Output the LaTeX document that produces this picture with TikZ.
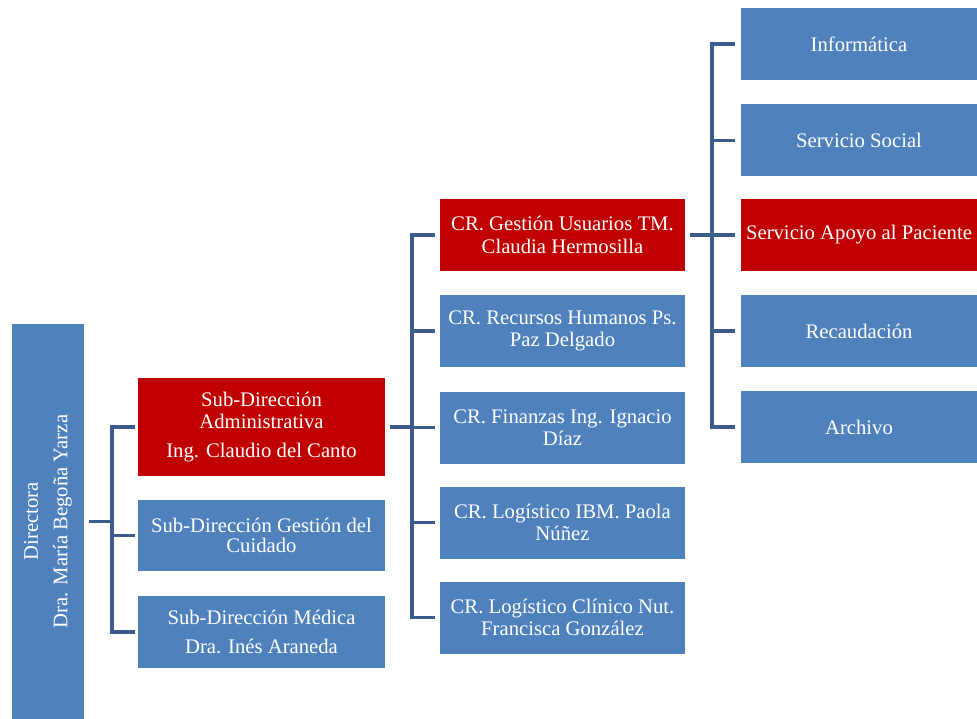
\documentclass[tikz,border=0pt]{standalone}
\usepackage{fontspec}
\setmainfont{Liberation Serif}
\definecolor{boxblue}{HTML}{4F81BD}
\definecolor{boxred}{HTML}{C00000}
\definecolor{linkblue}{HTML}{3B5C8C}
\begin{document}
\begin{tikzpicture}[x=1pt,y=-1pt,
  unit/.style={fill=boxblue, text=white, inner sep=0pt, align=center,
    font=\fontsize{20.7}{22.5}\selectfont},
  hi/.style={fill=boxred},
  subbox/.style={unit, minimum width=247pt},
  crbox/.style={unit, minimum width=245pt, minimum height=72pt},
  svcbox/.style={unit, minimum width=236pt, minimum height=72pt},
  link/.style={draw=linkblue, line width=3.6pt}]
\useasboundingbox (0,0) rectangle (977,719);

% director (rotated column)
\node[unit, rotate=90, minimum width=395pt, minimum height=72pt] (dir) at (48,521.5)
  {Directora\\[7pt]Dra. María Begoña Yarza};

% sub-directorates
\node[subbox, hi, minimum height=98pt] (sa) at (261.5,427)
  {Sub-Dirección\\Administrativa\\[6pt]Ing. Claudio del Canto};
\node[subbox, minimum height=71pt, font=\fontsize{20.7}{20}\selectfont] (sg) at (261.5,535.5)
  {Sub-Dirección Gestión del\\Cuidado};
\node[subbox, minimum height=72pt] (sm) at (261.5,632)
  {Sub-Dirección Médica\\[7pt]Dra. Inés Araneda};

% responsibility centres
\node[crbox, hi] (cr1) at (562.5,235) {CR. Gestión Usuarios TM.\\Claudia Hermosilla};
\node[crbox] (cr2) at (562.5,331) {CR. Recursos Humanos Ps.\\Paz Delgado};
\node[crbox] (cr3) at (562.5,427.5) {CR. Finanzas Ing. Ignacio\\Díaz};
\node[crbox] (cr4) at (562.5,522.5) {CR. Logístico IBM. Paola\\Núñez};
\node[crbox] (cr5) at (562.5,617.5) {CR. Logístico Clínico Nut.\\Francisca González};

% services
\node[svcbox] (sv1) at (859,44) {Informática};
\node[svcbox] (sv2) at (859,140.5) {Servicio Social};
\node[svcbox, hi] (sv3) at (859,235) {Servicio Apoyo al Paciente};
\node[svcbox] (sv4) at (859,331) {Recaudación};
\node[svcbox] (sv5) at (859,427) {Archivo};

% bus lines
\coordinate (busA) at (112,0);
\coordinate (busB) at (412,0);
\coordinate (busC) at (712,0);

\draw[link] ([xshift=5pt]dir.south) -- (dir.south -| busA);
\foreach \c in {sa,sg,sm}
  \draw[link] (dir.south -| busA) |- ([xshift=-3pt]\c.west);

\draw[link] ([xshift=5pt]sa.east) -- (sa.east -| busB);
\foreach \c in {cr1,cr2,cr3,cr4,cr5}
  \draw[link] (sa.east -| busB) |- ([xshift=-5pt]\c.west);

\draw[link] ([xshift=5pt]cr1.east) -- (cr1.east -| busC);
\foreach \c in {sv1,sv2,sv3,sv4,sv5}
  \draw[link] (cr1.east -| busC) |- ([xshift=-6pt]\c.west);
\end{tikzpicture}
\end{document}
